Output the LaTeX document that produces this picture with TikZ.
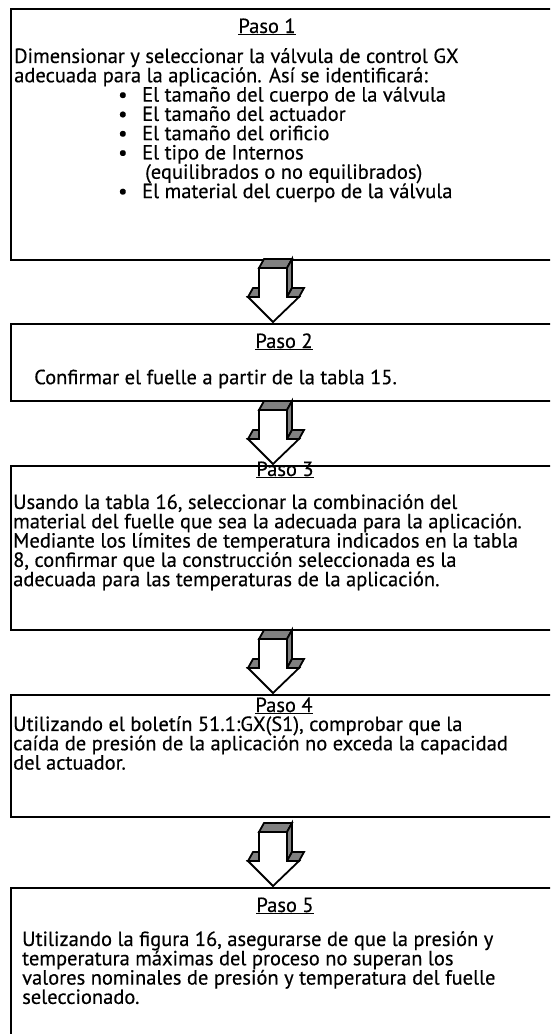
\documentclass[tikz,border=0pt]{standalone}
\usepackage{fontspec}
\setmainfont{PT Sans}[FakeBold=0.4]
\usepackage{tikz}
\usetikzlibrary{positioning,calc}
\tikzstyle{paso} = [rectangle, draw=black, line width=2.4pt, minimum width=560pt, anchor=north west, inner sep=0pt]
\tikzstyle{titulo} = [anchor=base, inner sep=0pt, font=\fontsize{20.5}{19.3}\selectfont]
\tikzstyle{texto} = [anchor=north west, inner sep=0pt, align=left, font=\fontsize{20.5}{19.3}\selectfont, execute at begin node={\rule{0pt}{17pt}}]
\tikzstyle{cara} = [fill=black!50, draw=black, line width=1.8pt, line join=miter]
\tikzstyle{frente} = [fill=white, draw=black, line width=1.8pt, line join=miter]
\tikzset{flecha/.pic={
	\path[cara] (-14,-55) -- (14,-55) -- (19,-64) -- (-9,-64) -- cycle;
	\path[cara] (14,-55) -- (19,-64) -- (19,-35) -- (14,-26) -- cycle;
	\path[cara] (14,-26) -- (26,-26) -- (31,-35) -- (19,-35) -- cycle;
	\path[cara] (-25,-26) -- (-14,-26) -- (-9,-35) -- (-20,-35) -- cycle;
	\path[frente] (-14,-55) -- (14,-55) -- (14,-26) -- (26,-26) -- (0,-1) -- (-25,-26) -- (-14,-26) -- cycle;
}}
\newcommand{\punto}{\hspace*{104pt}\makebox[24pt][l]{\textbullet}}

\begin{document}
\begin{tikzpicture}[x=1pt,y=-1pt]
	\useasboundingbox (0,0) rectangle (550,1034);
	\clip (0,0) rectangle (550,1034);
	\coordinate (ax) at (273,0);
	% cajas
	\node[paso, minimum height=251pt] (b1) at (10,8) {};
	\node[paso, minimum height=77pt] (b2) at (10,323) {};
	\node[paso, minimum height=164pt] (b3) at (10,465) {};
	\node[paso, minimum height=122pt] (b4) at (10,694) {};
	\node[paso, minimum height=170pt] (b5) at (10,887) {};
	% titulos
	\node[titulo] (t1) at (267,33) {\underline{Paso 1}};
	\node[titulo] (t2) at (284,348) {\underline{Paso 2}};
	\node[titulo] (t3) at (285,476) {\underline{Paso 3}};
	\node[titulo] (t4) at (284,712) {\underline{Paso 4}};
	\node[titulo] (t5) at (285,912) {\underline{Paso 5}};
	% textos
	\node[texto] (c1) at (14,48) {Dimensionar y seleccionar la válvula de control GX\\
		adecuada para la aplicación. Así se identificará:\\
		\punto El tamaño del cuerpo de la válvula\\
		\punto El tamaño del actuador\\
		\punto El tamaño del orificio\\
		\punto El tipo de Internos\\
		\hspace*{131pt}(equilibrados o no equilibrados)\\
		\punto El material del cuerpo de la válvula};
	\node[texto] (c2) at (34,367) {Confirmar el fuelle a partir de la tabla 15.};
	\node[texto] (c3) at (13,494) {Usando la tabla 16, seleccionar la combinación del\\
		material del fuelle que sea la adecuada para la aplicación.\\
		Mediante los límites de temperatura indicados en la tabla\\
		8, confirmar que la construcción seleccionada es la\\
		adecuada para las temperaturas de la aplicación.};
	\node[texto] (c4) at (13,716) {Utilizando el boletín 51.1:GX(S1), comprobar que la\\
		caída de presión de la aplicación no exceda la capacidad\\
		del actuador.};
	\node[texto] (c5) at (22,931) {Utilizando la figura 16, asegurarse de que la presión y\\
		temperatura máximas del proceso no superan los\\
		valores nominales de presión y temperatura del fuelle\\
		seleccionado.};
	% flechas
	\pic at (b2.north -| ax) {flecha};
	\pic at (b3.north -| ax) {flecha};
	\pic at (b4.north -| ax) {flecha};
	\pic at (b5.north -| ax) {flecha};
\end{tikzpicture}
\end{document}
